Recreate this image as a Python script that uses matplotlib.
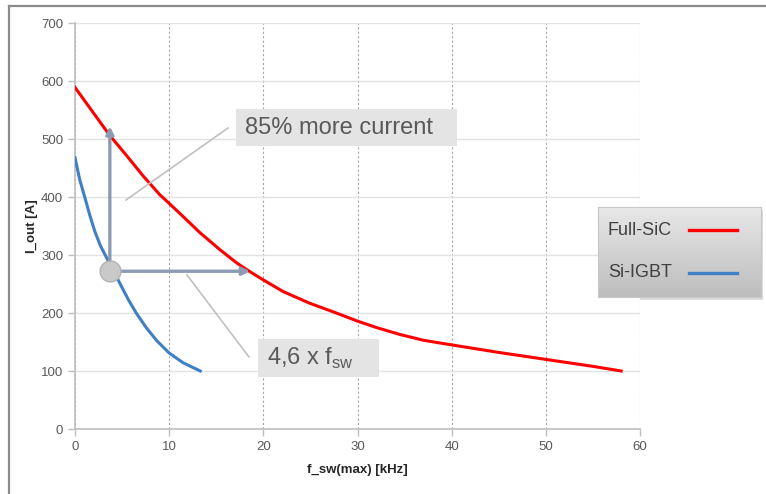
import numpy as np
import matplotlib.pyplot as plt
from matplotlib.colors import LinearSegmentedColormap
from matplotlib.patches import Rectangle
from matplotlib.lines import Line2D

plt.rcParams['font.family'] = ['Liberation Sans', 'DejaVu Sans']
plt.rcParams['mathtext.fontset'] = 'custom'
plt.rcParams['mathtext.rm'] = 'Liberation Sans'

# values
sic_f = [0, 2, 3.7, 5.5, 7.25, 9, 10, 11.5, 13.3, 15.4, 17.2, 18.6, 20, 22.1, 24.9, 27.75,
         30, 32, 34.5, 37, 40, 45, 50, 55, 58]
sic_i = [589, 544, 506, 471, 436, 404, 389, 366, 338, 309, 286, 271, 257, 237, 217, 200,
         186, 175, 163, 153, 145, 132, 120, 108, 100]
igbt_f = [0, 0.5, 1.1, 1.6, 2.1, 2.7, 3.4, 3.9, 4.8, 5.7, 6.5, 7.6, 8.7, 10.0, 11.5, 13.3]
igbt_i = [468, 430, 396, 367, 341, 316, 294, 279, 250, 222, 200, 174, 152, 131, 114, 100]

series_names = ['Full-SiC', 'Si-IGBT']
series_colors = ['#ff0000', '#3f7fc4']

# annotation points (data units)
ref_pt = (3.7, 272)
up_target = 522
right_target = 18.6
note_current = '85% more current'
note_freq = '4,6 x f$_{\\mathrm{sw}}$'

W, H = 766, 494
fig = plt.figure(figsize=(W / 100, H / 100), dpi=100)

def fx(px):
    return px / W

def fy(py):
    return 1 - py / H

ax = fig.add_axes([fx(75), fy(429), fx(640) - fx(75), fy(23) - fy(429)])

ax.plot(sic_f, sic_i, color=series_colors[0], lw=2.2, zorder=3, solid_joinstyle='round')
ax.plot(igbt_f, igbt_i, color=series_colors[1], lw=2.2, zorder=3, solid_joinstyle='round')

ax.set_xlim(0, 60)
ax.set_ylim(0, 700)
ax.set_xticks(np.arange(0, 61, 10))
ax.set_yticks(np.arange(0, 701, 100))

ax.yaxis.grid(True, color='#e2e2e2', lw=1.0, ls='-')
ax.xaxis.grid(True, color='#a6a6a6', lw=0.8, ls=(0, (2, 2)))
ax.set_axisbelow(True)
for s in ['top', 'right']:
    ax.spines[s].set_visible(False)
for s in ['left', 'bottom']:
    ax.spines[s].set_color('#bfbfbf')
    ax.spines[s].set_linewidth(1.2)
ax.tick_params(colors='#bfbfbf', labelcolor='#595959', labelsize=9.5, length=5, width=1)

ax.set_xlabel('f_sw(max) [kHz]', fontsize=9.5, fontweight='bold', color='#262626', labelpad=8)
ax.set_ylabel('I_out [A]', fontsize=9.5, fontweight='bold', color='#262626', labelpad=2)

# arrows from reference point
arrow_c = '#8c9bb3'
for tgt in [(ref_pt[0], up_target), (right_target, ref_pt[1])]:
    ax.annotate('', xy=tgt, xytext=ref_pt,
                arrowprops=dict(arrowstyle='-|>', color=arrow_c, lw=2.4, mutation_scale=11,
                                shrinkA=0, shrinkB=0), zorder=4)
ax.plot(*ref_pt, marker='o', ms=15, mfc='#c9c9c9', mec='#b3b3b3', mew=1, zorder=5)

# callout lines and boxes (figure pixels)
fig.add_artist(Line2D([fx(126), fx(228)], [fy(200), fy(128)], color='#c0c0c0', lw=1.2))
fig.add_artist(Line2D([fx(187), fx(249)], [fy(275), fy(357)], color='#c0c0c0', lw=1.2))

fig.add_artist(Rectangle((fx(236), fy(146)), fx(457) - fx(236), fy(109) - fy(146),
                         transform=fig.transFigure, facecolor='#e4e4e4', edgecolor='none'))
fig.text(fx(245), fy(128), note_current, fontsize=17, color='#595959', va='center', ha='left')

fig.add_artist(Rectangle((fx(258), fy(377)), fx(379) - fx(258), fy(339) - fy(377),
                         transform=fig.transFigure, facecolor='#e4e4e4', edgecolor='none'))
fig.text(fx(267), fy(358), note_freq, fontsize=17, color='#595959', va='center', ha='left')

# legend with gradient and soft shadow
lx0, ly0, lx1, ly1 = 598, 207, 761, 297
fig.add_artist(Rectangle((fx(lx0 + 2), fy(ly1 + 3)), fx(lx1) - fx(lx0), fy(ly0) - fy(ly1),
                         transform=fig.transFigure, facecolor='#dcdcdc', edgecolor='none',
                         zorder=-1))
lax = fig.add_axes([fx(lx0), fy(ly1), fx(lx1) - fx(lx0), fy(ly0) - fy(ly1)])
lax.set_zorder(5)
grad = np.linspace(0, 1, 100).reshape(-1, 1)
lax.imshow(grad, aspect='auto', cmap=LinearSegmentedColormap.from_list('g', ['#e8e8e8', '#bdbdbd']),
           extent=[0, 1, 0, 1], origin='upper')
lax.set_xlim(0, 1)
lax.set_ylim(0, 1)
lax.set_xticks([])
lax.set_yticks([])
for s in lax.spines.values():
    s.set_color('#c8c8c8')
for name, col, yy in zip(series_names, series_colors, [0.74, 0.27]):
    lax.text(0.06, yy, name, fontsize=13, color='#404040', va='center', ha='left')
    lax.plot([0.56, 0.85], [yy, yy], color=col, lw=2.4)

# outer frame (top and left edges)
fig.add_artist(Line2D([fx(9), 1], [fy(6), fy(6)], color='#8c8c8c', lw=1.6))
fig.add_artist(Line2D([fx(9), fx(9)], [fy(6), 0], color='#8c8c8c', lw=1.6))

fig.savefig('out.png', dpi=100)
